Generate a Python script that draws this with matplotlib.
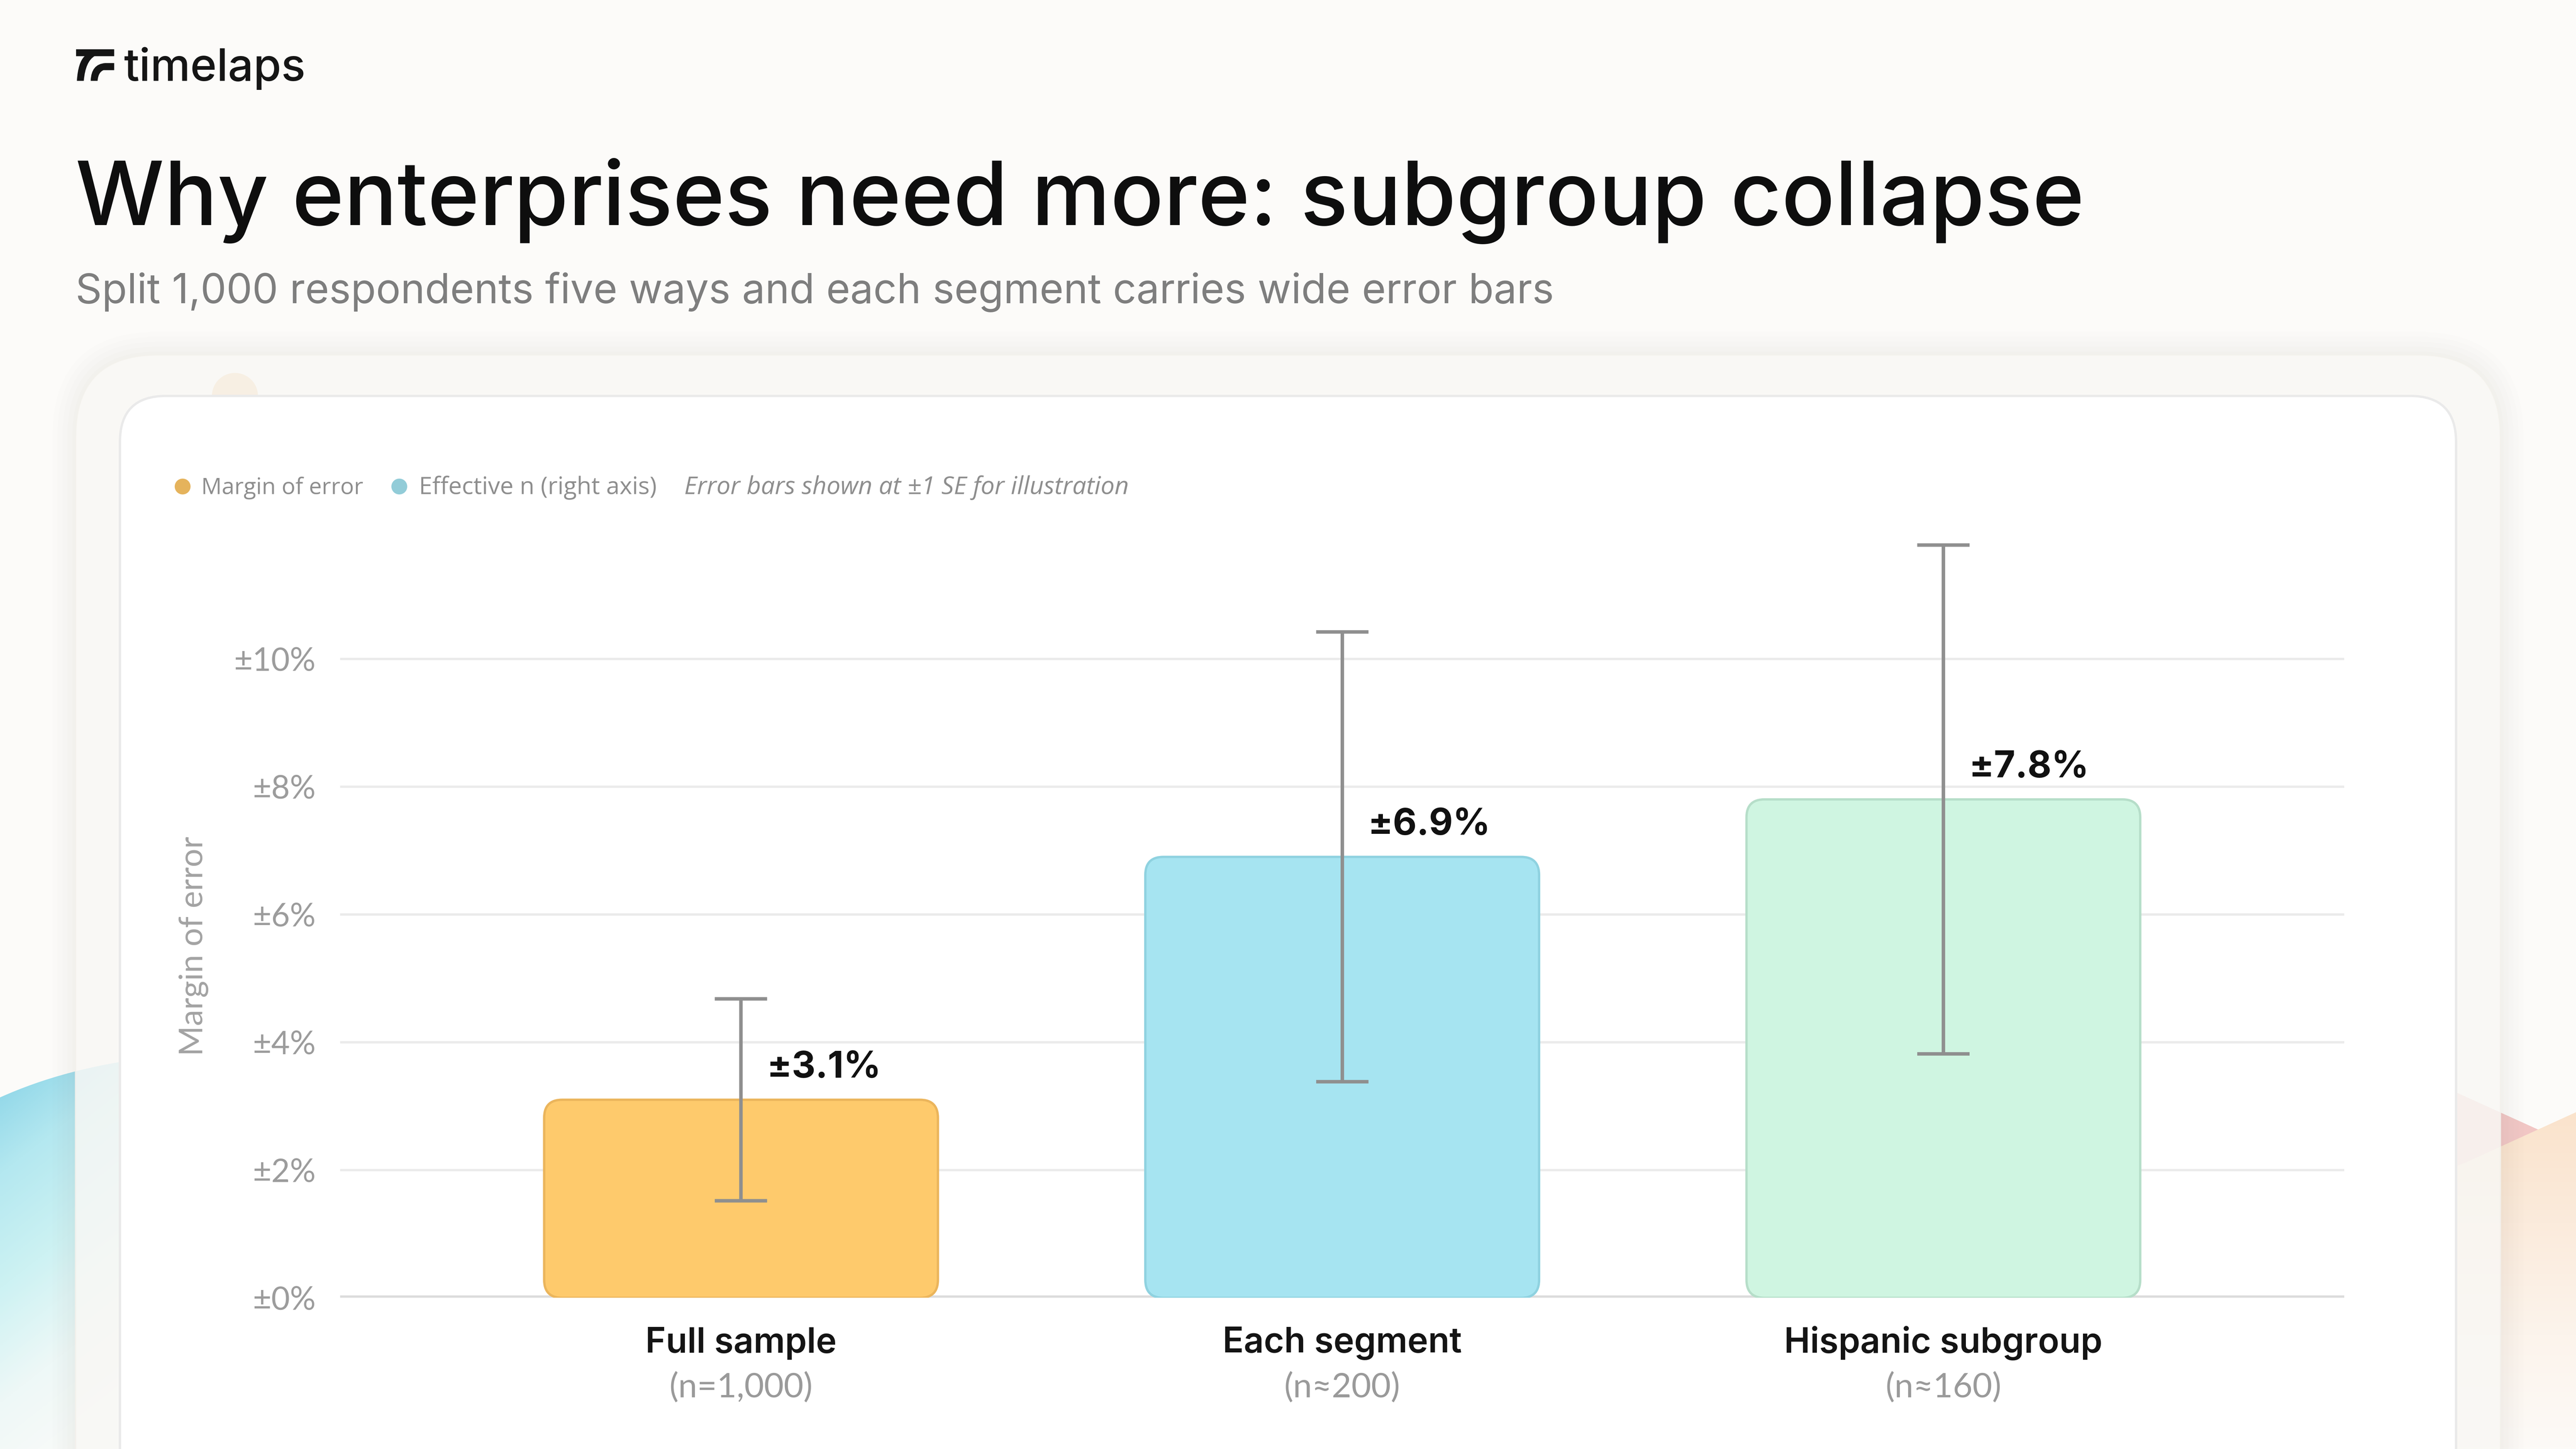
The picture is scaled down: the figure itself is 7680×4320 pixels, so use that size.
import matplotlib
matplotlib.use("Agg")
import matplotlib.pyplot as plt
from matplotlib.patches import FancyBboxPatch, Polygon, Circle, PathPatch
from matplotlib.path import Path
from matplotlib.lines import Line2D
from matplotlib.colors import LinearSegmentedColormap
import numpy as np

# ---------------- data ----------------
categories = ["Full sample", "Each segment", "Hispanic subgroup"]
sample_sizes = ["(n=1,000)", "(n≈200)", "(n≈160)"]
margin_of_error = [3.1, 6.9, 7.8]
standard_error = [1.58, 3.52, 3.98]
value_labels = ["±3.1%", "±6.9%", "±7.8%"]
y_ticks = [0, 2, 4, 6, 8, 10]
y_tick_labels = ["±0%", "±2%", "±4%", "±6%", "±8%", "±10%"]
bar_colors = ["#FECA6C", "#A6E4F1", "#CFF5E1"]
bar_edges = ["#EBB55C", "#8FD2E0", "#B6DEC9"]

TITLE = "Why enterprises need more: subgroup collapse"
SUBTITLE = "Split 1,000 respondents five ways and each segment carries wide error bars"

# ---------------- figure ----------------
W, H = 1568, 882
fig = plt.figure(figsize=(15.36, 8.64), dpi=500)
fig.patch.set_facecolor("#FCFBF9")

bg = fig.add_axes([0, 0, 1, 1], zorder=0)
bg.set_xlim(0, W)
bg.set_ylim(H, 0)
bg.axis("off")

# left decorative cyan blob
vv = np.linspace(0, 1, 300)[:, None]
hh = np.linspace(0, 1, 60)[None, :]
arr = np.clip(vv * 0.85 + hh * 0.25, 0, 1)
cmap_c = LinearSegmentedColormap.from_list(
    "c", ["#86D2E6", "#B4E8F0", "#CDF2F3", "#EEF8F7", "#FAFBF9"])
img = bg.imshow(arr, cmap=cmap_c, extent=[0, 90, 882, 644], aspect="auto",
                zorder=0.5, interpolation="bilinear")
blob = Path([(0, 668), (40, 650), (90, 644), (90, 882), (0, 882), (0, 668)],
            [Path.MOVETO, Path.CURVE3, Path.CURVE3, Path.LINETO, Path.LINETO,
             Path.CLOSEPOLY])
clip = PathPatch(blob, transform=bg.transData, fc="none", ec="none")
bg.add_patch(clip)
img.set_clip_path(clip)

# right decorative shapes
bg.add_patch(Polygon([(1440, 640), (1568, 698), (1568, 760), (1440, 760)],
                     closed=True, fc="#F1C6C4", ec="none", zorder=0.5))
vv2 = np.linspace(0, 1, 300)[:, None] * np.ones((1, 20))
cmap_p = LinearSegmentedColormap.from_list(
    "p", ["#FAE3CC", "#FBEBDC", "#FCF4EC", "#FCFAF7"])
img2 = bg.imshow(vv2, cmap=cmap_p, extent=[1440, 1568, 882, 676], aspect="auto",
                 zorder=0.6, interpolation="bilinear")
peach = Path([(1440, 730), (1500, 708), (1568, 677), (1568, 882), (1440, 882),
              (1440, 730)],
             [Path.MOVETO, Path.LINETO, Path.LINETO, Path.LINETO, Path.LINETO,
              Path.CLOSEPOLY])
clip2 = PathPatch(peach, transform=bg.transData, fc="none", ec="none")
bg.add_patch(clip2)
img2.set_clip_path(clip2)

# outer card soft shadow
for k, a in enumerate([0.010, 0.010, 0.012, 0.014, 0.016]):
    pad = 14 - k * 3
    bg.add_patch(FancyBboxPatch((46 - pad, 216 - pad), 1476 + 2 * pad, 900,
                                boxstyle=f"round,pad=0,rounding_size={50 + pad}",
                                fc="#8A8070", ec="none", alpha=a, zorder=1))
bg.add_patch(FancyBboxPatch((46, 216), 1476, 900,
                            boxstyle="round,pad=0,rounding_size=50",
                            fc="#FBFAF7", ec="#F3F1EC", lw=0.6, alpha=0.82,
                            zorder=1.2))
# small peach dot behind inner card
bg.add_patch(Circle((143, 241), 14, fc="#F7EFE3", ec="none", zorder=1.3))
# inner card
bg.add_patch(FancyBboxPatch((73, 241), 1422, 900,
                            boxstyle="round,pad=0,rounding_size=28",
                            fc="white", ec="#EAEAEA", lw=1.0, zorder=1.5))

# ---------------- logo ----------------
ic1 = Path([(46.3, 30), (69.5, 30), (69.5, 34.2), (57.5, 34.2), (52.0, 37.5),
            (51.0, 49.2), (46.8, 49.2), (47.5, 38.0), (51.5, 34.2), (46.3, 34.2),
            (46.3, 30)],
           [Path.MOVETO, Path.LINETO, Path.LINETO, Path.LINETO, Path.CURVE3,
            Path.CURVE3, Path.LINETO, Path.CURVE3, Path.CURVE3, Path.LINETO,
            Path.CLOSEPOLY])
ic2 = Path([(69.5, 38.4), (69.5, 42.7), (63.0, 42.7), (59.8, 44.0), (59.4, 49.2),
            (55.2, 49.2), (55.5, 39.0), (64.0, 38.4), (69.5, 38.4)],
           [Path.MOVETO, Path.LINETO, Path.LINETO, Path.CURVE3, Path.CURVE3,
            Path.LINETO, Path.CURVE3, Path.CURVE3, Path.CLOSEPOLY])
for p in (ic1, ic2):
    bg.add_patch(PathPatch(p, fc="#151515", ec="none", zorder=3))
bg.text(75.5, 49.2, "timelaps", fontsize=19.3, family="Inter", fontweight="medium",
        color="#151515", va="baseline", ha="left", zorder=3)

# ---------------- titles ----------------
bg.text(46, 137, TITLE, fontsize=38, family="Inter", fontweight="medium",
        color="#0E0E0E", va="baseline", ha="left", zorder=3)
bg.text(46, 184.5, SUBTITLE, fontsize=17.65, family="Inter", fontweight="normal",
        color="#7E7E7E", va="baseline", ha="left", zorder=3)

# ---------------- legend ----------------
legend_font = "Open Sans"
bg.add_line(Line2D([111], [296], marker="o", ms=6.8, color="#E5B35C", mec="none",
                   zorder=3))
bg.text(122.5, 300.8, "Margin of error", fontsize=9.8, family=legend_font,
        color="#8E8E8E", va="baseline", ha="left", zorder=3)
bg.add_line(Line2D([243], [296], marker="o", ms=6.8, color="#92CCD8", mec="none",
                   zorder=3))
bg.text(255, 300.8, "Effective n (right axis)", fontsize=10.3, family=legend_font,
        color="#8E8E8E", va="baseline", ha="left", zorder=3)
bg.text(416.5, 300.8, "Error bars shown at ±1 SE for illustration", fontsize=10.6,
        family=legend_font, style="italic", color="#8E8E8E", va="baseline",
        ha="left", zorder=3)

# y-axis label
bg.text(118, 576, "Margin of error", fontsize=14, family="Lato", color="#A3A3A3",
        rotation=90, ha="center", va="center", zorder=3)

# ---------------- chart ----------------
x0, x1, ytop, ybot = 207, 1427, 323.2, 790
ax = fig.add_axes([x0 / W, 1 - ybot / H, (x1 - x0) / W, (ybot - ytop) / H], zorder=2)
ax.set_facecolor("none")
xlim = (-0.667, 2.667)
ylim = (0, 12)
ax.set_xlim(*xlim)
ax.set_ylim(*ylim)

ax.set_yticks(y_ticks)
ax.set_yticklabels(y_tick_labels, fontsize=13.8, family="Lato", color="#9C9C9C")
ax.tick_params(axis="y", length=0, pad=10.5)
ax.tick_params(axis="x", length=0, labelbottom=False)
ax.set_xticks([])
ax.yaxis.grid(True, color="#EBEBEB", lw=1.0, zorder=0)
ax.set_axisbelow(True)
for s in ax.spines.values():
    s.set_visible(False)
ax.axhline(0, color="#DCDCDC", lw=2.0, zorder=1)

# rounded bars in data coords
px_w = x1 - x0
px_h = ybot - ytop
ux = (xlim[1] - xlim[0]) / px_w
uy = (ylim[1] - ylim[0]) / px_h
aspect = uy / ux
bar_w = 0.655
r_px = 11
xs = np.arange(len(categories))
for i, (v, fc, ec) in enumerate(zip(margin_of_error, bar_colors, bar_edges)):
    ax.add_patch(FancyBboxPatch((xs[i] - bar_w / 2, 0), bar_w, v,
                                boxstyle=f"round,pad=0,rounding_size={r_px * ux}",
                                mutation_aspect=aspect, fc=fc, ec=ec, lw=1.0,
                                zorder=2))

ax.errorbar(xs, margin_of_error, yerr=standard_error, fmt="none",
            ecolor="#8F8F8F", elinewidth=1.5, capsize=11.3, capthick=1.5,
            zorder=3)

for i, (v, lab) in enumerate(zip(margin_of_error, value_labels)):
    ax.annotate(lab, (xs[i], v), xytext=(11, 13.5), textcoords="offset points",
                ha="left", va="center", fontsize=15.8, family="Inter",
                fontweight="bold", color="#111111", zorder=4)

for i, (c, n) in enumerate(zip(categories, sample_sizes)):
    ax.annotate(c, (xs[i], 0), xycoords=("data", "axes fraction"),
                xytext=(0, -19.5), textcoords="offset points", ha="center",
                va="center", fontsize=15, family="Inter", fontweight="semibold",
                color="#141414", annotation_clip=False)
    ax.annotate(n, (xs[i], 0), xycoords=("data", "axes fraction"),
                xytext=(0, -38.5), textcoords="offset points", ha="center",
                va="center", fontsize=14.6, family="Lato", color="#9A9A9A",
                annotation_clip=False)

fig.savefig("out.png", dpi=500, facecolor=fig.get_facecolor())
